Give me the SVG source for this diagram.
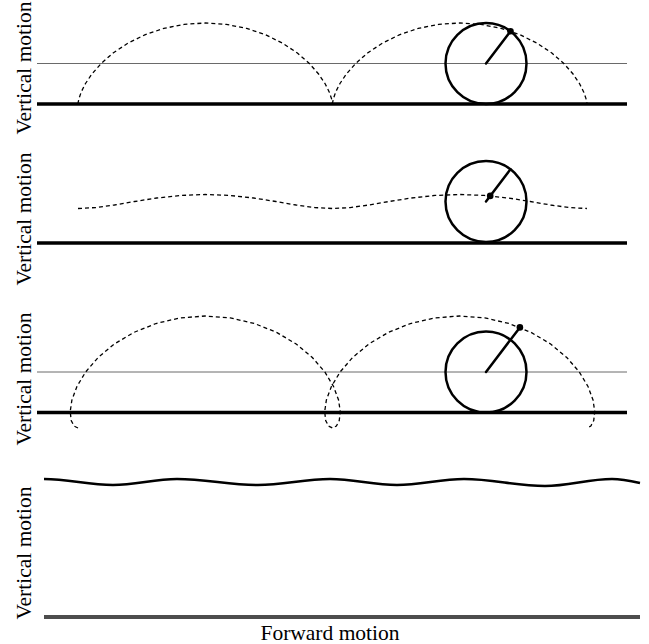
<svg xmlns="http://www.w3.org/2000/svg" width="649" height="644" viewBox="0 0 649 644">
<style>
.lbl{font-family:"Liberation Serif","Times New Roman",serif;font-size:21.5px;fill:#000;text-anchor:middle}
.ground{stroke:#000;stroke-width:3.5;fill:none}
.axis{stroke:#6a6a6a;stroke-width:1;fill:none}
.wheel{stroke:#000;stroke-width:2.5;fill:none}
.spoke{stroke:#000;stroke-width:2.5;stroke-linecap:round}
.path{stroke:#000;stroke-width:1.3;fill:none;stroke-dasharray:4 3}
</style>
<rect width="649" height="644" fill="#fff"/>
<g id="panel1">
<text class="lbl" transform="translate(31,68) rotate(-90)">Vertical motion</text>
<line class="axis" x1="37" y1="63.5" x2="627" y2="63.5"/>
<line class="ground" x1="37" y1="104" x2="627" y2="104"/>
<polyline class="path" points="78,104 78.12,102.62 78.96,98.57 81.17,92.14 85.34,83.75 91.9,73.98 101.12,63.5 113.1,53.02 127.75,43.25 144.79,34.86 163.78,28.43 184.15,24.38 205.23,23 226.32,24.38 246.69,28.43 265.68,34.86 282.72,43.25 297.37,53.02 309.35,63.5 318.57,73.98 325.13,83.75 329.3,92.14 331.51,98.57 332.35,102.62 332.47,104"/>
<polyline class="path" points="332.47,104 332.59,102.62 333.43,98.57 335.64,92.14 339.81,83.75 346.37,73.98 355.59,63.5 367.57,53.02 382.22,43.25 399.26,34.86 418.25,28.43 438.62,24.38 459.7,23 480.79,24.38 501.16,28.43 520.15,34.86 537.19,43.25 551.84,53.02 563.82,63.5 573.04,73.98 579.6,83.75 583.77,92.14 585.98,98.57 586.82,102.62 586.94,104"/>
<circle class="wheel" cx="486" cy="63.5" r="40.5"/>
<line class="spoke" x1="486" y1="63.5" x2="510.5" y2="31.2"/>
<circle cx="510.5" cy="31.2" r="3.3" fill="#000"/>
</g>
<g id="panel2">
<text class="lbl" transform="translate(31,219) rotate(-90)">Vertical motion</text>
<line class="ground" x1="37" y1="243" x2="627" y2="243"/>
<polyline class="path" points="78,208.5 95.71,207.56 114.35,205 134.62,201.5 156.76,198 180.53,195.44 205.23,194.5 229.94,195.44 253.71,198 275.85,201.5 296.12,205 314.76,207.56 332.47,208.5 350.18,207.56 368.82,205 389.09,201.5 411.23,198 435,195.44 459.7,194.5 484.41,195.44 508.18,198 530.32,201.5 550.59,205 569.23,207.56 586.94,208.5"/>
<circle class="wheel" cx="486" cy="201.5" r="40.5"/>
<line class="spoke" x1="486" y1="201.5" x2="510.5" y2="169.2"/>
<circle cx="490.2" cy="195.9" r="3.3" fill="#000"/>
</g>
<g id="panel3">
<text class="lbl" transform="translate(31,379) rotate(-90)">Vertical motion</text>
<line class="axis" x1="37" y1="372" x2="627" y2="372"/>
<line class="ground" x1="37" y1="412.5" x2="627" y2="412.5"/>
<polyline class="path" points="78,428 74.11,426.09 71.21,420.5 70.21,411.6 71.91,400 76.92,386.49 85.62,372 98.13,357.51 114.32,344 133.83,332.4 156.03,323.5 180.14,317.91 205.23,316 230.33,317.91 254.44,323.5 276.64,332.4 296.15,344 312.34,357.51 324.85,372 333.55,386.49 338.56,400 340.26,411.6 339.26,420.5 336.36,426.09 332.47,428 328.58,426.09 325.68,420.5 324.68,411.6 326.38,400 331.39,386.49 340.09,372 352.6,357.51 368.79,344 388.3,332.4 410.5,323.5 434.61,317.91 459.7,316 484.8,317.91 508.91,323.5 531.11,332.4 550.62,344 566.81,357.51 579.32,372 588.02,386.49 593.03,400 594.73,411.6 593.73,420.5 590.83,426.09 586.94,428"/>
<circle class="wheel" cx="486" cy="372" r="40.5"/>
<line class="spoke" x1="486" y1="372" x2="519.9" y2="327.4"/>
<circle cx="519.9" cy="327.4" r="3.3" fill="#000"/>
</g>
<g id="panel4">
<text class="lbl" transform="translate(31,553) rotate(-90)">Vertical motion</text>
<path d="M44,479 C69,479 88,485 113,485 C136,485 154,479 177,479 C206,479 229,485 258,485 C284,485 304,479 330,479 C354,479 373,485 397,485 C421,485 440,479 464,479 C493,479 516,486 545,486 C569,486 588,479 612,479 C622,479 631,481 640,483" stroke="#000" stroke-width="2.5" fill="none"/>
<line x1="44" y1="617" x2="640" y2="617" stroke="#4d4d4d" stroke-width="4"/>
<text class="lbl" x="330" y="640">Forward motion</text>
</g>
<g id="connectors"></g>
</svg>
